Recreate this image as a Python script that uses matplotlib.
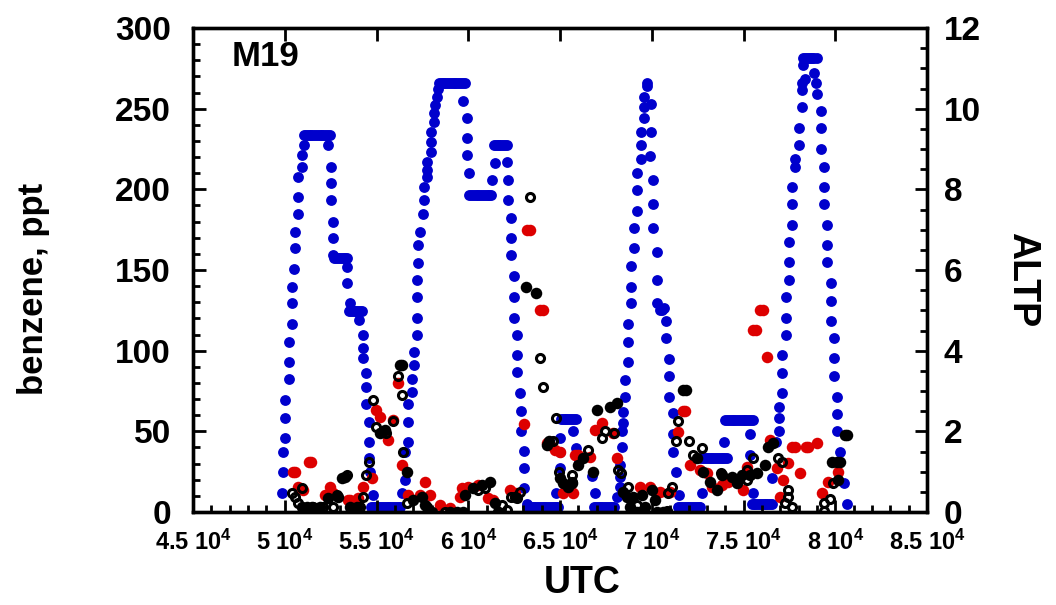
import numpy as np
import matplotlib
matplotlib.use('Agg')
import matplotlib.pyplot as plt
from matplotlib.ticker import MultipleLocator

plt.rcParams['font.family'] = 'Liberation Sans'
plt.rcParams['font.weight'] = 'bold'
plt.rcParams['axes.labelweight'] = 'bold'
plt.rcParams['mathtext.fontset'] = 'custom'
plt.rcParams['mathtext.rm'] = 'Liberation Sans:bold'
plt.rcParams['mathtext.default'] = 'rm'

# ALTP (right axis)
altp_pts = [
    (49832, 0.46), (49886, 1.00), (49886, 1.50), (50014, 1.83), (50014, 2.32), (50014, 2.78),
    (50232, 3.31), (50232, 3.73), (50232, 4.22), (50377, 4.66), (50377, 5.17), (50377, 5.59),
    (50522, 6.02), (50559, 6.54), (50559, 6.95), (50740, 7.38), (50740, 7.80), (50740, 8.31),
    (50922, 8.56), (50922, 8.85), (51067, 9.10),
    (51050, 9.35), (51150, 9.35), (51250, 9.35), (51350, 9.35), (51450, 9.35), (51550, 9.35),
    (51650, 9.35), (51750, 9.35), (51850, 9.35), (51950, 9.35), (52050, 9.35), (52150, 9.35),
    (52250, 9.35), (52350, 9.35), (52450, 9.35),
    (52339, 9.10), (52503, 8.56), (52503, 8.15), (52503, 7.74), (52648, 7.20), (52648, 6.79),
    (52648, 6.37),
    (52700, 6.29), (52800, 6.29), (52900, 6.29), (53000, 6.29), (53100, 6.29), (53200, 6.29),
    (53300, 6.29), (53400, 6.29),
    (53375, 6.08), (53375, 5.69), (53557, 5.17),
    (53500, 4.99), (53600, 4.99), (53700, 4.99), (53800, 4.99), (53900, 4.99), (54000, 4.99),
    (54100, 4.99), (54200, 4.99),
    (54066, 4.76), (54284, 4.39), (54284, 4.06), (54284, 3.81), (54429, 3.44), (54429, 3.11),
    (54429, 2.69), (54611, 2.24), (54611, 1.74), (54611, 1.33), (54647, 1.00), (54793, 0.42),
    (54700, 0.13), (54800, 0.13), (54900, 0.13), (55000, 0.13), (55100, 0.13), (55200, 0.13),
    (55300, 0.13), (55400, 0.13), (55500, 0.13), (55600, 0.13), (55700, 0.13), (55800, 0.13),
    (55900, 0.13), (56000, 0.13), (56100, 0.13), (56200, 0.13), (56300, 0.13),
    (56373, 0.46), (56555, 0.79), (56555, 1.50), (56737, 1.74), (56737, 2.24), (56737, 2.69),
    (56918, 2.98), (56918, 3.31), (57046, 3.64), (57046, 3.97), (57191, 4.39), (57191, 4.80),
    (57191, 5.34), (57191, 5.75), (57282, 6.17), (57282, 6.62), (57373, 6.95), (57554, 7.38),
    (57590, 7.74), (57590, 8.07), (57772, 8.31), (57772, 8.48), (57772, 8.69), (57953, 8.93),
    (57953, 9.18), (57953, 9.43), (58135, 9.68), (58135, 9.89), (58190, 10.09), (58281, 10.30),
    (58371, 10.50),
    (58400, 10.63), (58500, 10.63), (58600, 10.63), (58700, 10.63), (58800, 10.63), (58900, 10.63),
    (59000, 10.63), (59100, 10.63), (59200, 10.63), (59300, 10.63), (59400, 10.63), (59500, 10.63),
    (59600, 10.63), (59700, 10.63), (59800, 10.63),
    (59698, 10.20), (59916, 9.76), (59916, 9.27), (59916, 8.85), (60061, 8.41),
    (60050, 7.86), (60150, 7.86), (60250, 7.86), (60350, 7.86), (60450, 7.86), (60550, 7.86),
    (60650, 7.86), (60750, 7.86), (60850, 7.86), (60950, 7.86), (61050, 7.86), (61150, 7.86),
    (61250, 7.86),
    (61279, 8.23), (61460, 8.66),
    (61400, 9.10), (61500, 9.10), (61600, 9.10), (61700, 9.10), (61800, 9.10), (61900, 9.10),
    (62000, 9.10), (62100, 9.10),
    (62133, 8.67), (62187, 8.23), (62187, 7.74), (62314, 7.30), (62314, 6.79), (62314, 6.36),
    (62514, 5.86), (62514, 5.34), (62514, 4.82), (62678, 4.39), (62678, 3.89), (62678, 3.46),
    (62823, 2.94), (62860, 2.51), (62860, 2.01), (63059, 1.51), (63059, 1.08), (63059, 0.59),
    (63186, 0.21),
    (63200, 0.12), (63300, 0.12), (63400, 0.12), (63500, 0.12), (63600, 0.12), (63700, 0.12),
    (63800, 0.12), (63900, 0.12), (64000, 0.12), (64100, 0.12), (64200, 0.12), (64300, 0.12),
    (64400, 0.12), (64500, 0.12), (64600, 0.12), (64700, 0.12), (64800, 0.12), (64900, 0.12),
    (64784, 0.46), (65002, 1.08), (65002, 1.50), (65002, 1.83),
    (65050, 2.30), (65150, 2.30), (65250, 2.30), (65350, 2.30), (65450, 2.30), (65550, 2.30),
    (65650, 2.30), (65750, 2.30), (65850, 2.30),
    (65692, 2.00), (65874, 1.58), (66056, 1.29), (66729, 0.90), (66910, 0.46),
    (66850, 0.13), (66950, 0.13), (67050, 0.13), (67150, 0.13), (67250, 0.13), (67350, 0.13),
    (67450, 0.13), (67550, 0.13), (67650, 0.13), (67750, 0.13), (67850, 0.13), (67950, 0.13),
    (68127, 0.38), (68273, 0.63), (68273, 0.88), (68273, 1.17), (68364, 1.62), (68364, 2.00),
    (68454, 2.20), (68454, 2.49), (68545, 2.86), (68545, 3.27), (68690, 3.71), (68690, 4.22),
    (68690, 4.65), (68854, 5.17), (68854, 5.59), (68854, 6.11), (69036, 6.54), (69036, 7.03),
    (69217, 7.47), (69217, 7.98), (69217, 8.41), (69399, 8.75), (69399, 9.10), (69399, 9.43),
    (69581, 9.78), (69581, 10.03), (69581, 10.30), (69762, 10.55), (69762, 10.63),
    (69944, 10.12), (69944, 9.43), (69908, 8.83), (70090, 8.23), (70090, 7.64), (70090, 7.03),
    (70271, 6.44), (70271, 5.75), (70271, 5.17), (70453, 5.01), (70560, 5.00), (70671, 5.05),
    (70780, 4.74), (70780, 4.31), (70962, 3.79), (70962, 3.37), (70962, 2.86), (71143, 2.45),
    (71143, 1.93), (71143, 1.50), (71325, 0.98), (71507, 0.42),
    (71450, 0.13), (71550, 0.13), (71650, 0.13), (71750, 0.13), (71850, 0.13), (71950, 0.13),
    (72050, 0.13), (72150, 0.13), (72250, 0.13), (72350, 0.13), (72450, 0.13), (72550, 0.13),
    (72650, 0.13),
    (72724, 0.46),
    (72700, 1.33), (72800, 1.33), (72900, 1.33), (73000, 1.33), (73100, 1.33), (73200, 1.33),
    (73300, 1.33), (73400, 1.33), (73500, 1.33), (73600, 1.33), (73700, 1.33), (73800, 1.33),
    (73900, 1.33), (74000, 1.33), (74100, 1.33),
    (73940, 1.74),
    (74000, 2.27), (74100, 2.27), (74200, 2.27), (74300, 2.27), (74400, 2.27), (74500, 2.27),
    (74600, 2.27), (74700, 2.27), (74800, 2.27), (74900, 2.27), (75000, 2.27), (75100, 2.27),
    (75200, 2.27), (75300, 2.27), (75400, 2.27), (75500, 2.27),
    (75358, 1.93), (75358, 1.41), (75539, 0.46),
    (75450, 0.21), (75550, 0.21), (75650, 0.21), (75750, 0.21), (75850, 0.21), (75950, 0.21),
    (76050, 0.21), (76150, 0.21), (76250, 0.21), (76350, 0.21), (76450, 0.21), (76550, 0.21),
    (76575, 0.84), (76775, 1.74), (76938, 2.00), (76938, 2.34), (76938, 2.61), (77120, 2.94),
    (77120, 3.45), (77120, 3.89), (77302, 4.39), (77302, 4.82), (77302, 5.34), (77465, 5.75),
    (77465, 6.19), (77465, 6.70), (77647, 7.12), (77647, 7.64), (77647, 8.07), (77810, 8.56),
    (77810, 8.75), (78010, 9.10), (78010, 9.51), (78174, 10.03), (78174, 10.46), (78174, 10.63),
    (78356, 10.74), (78265, 11.08),
    (78250, 11.25), (78350, 11.25), (78450, 11.25), (78550, 11.25), (78650, 11.25), (78750, 11.25),
    (78850, 11.25), (79000, 11.25),
    (78864, 10.89), (78955, 10.63), (79028, 10.36), (79210, 9.94), (79210, 9.51), (79210, 9.00),
    (79391, 8.56), (79391, 8.07), (79391, 7.64), (79573, 7.12), (79573, 6.62), (79573, 6.19),
    (79755, 5.67), (79755, 5.24), (79755, 4.74), (79936, 4.31), (79936, 3.81), (79936, 3.37),
    (80082, 2.86), (80082, 2.42), (80082, 2.01), (80264, 1.50), (80482, 0.71), (80627, 0.21),
]

# benzene, ppt (left axis) - red filled
red_pts = [
    (50468, 25.0), (50560, 25.0), (50740, 15.7), (51013, 13.7), (51340, 31.2), (51430, 31.2),
    (52194, 10.6), (52467, 15.7), (52648, 12.0), (53466, 7.5), (53560, 7.5), (54011, 8.5),
    (54284, 15.7), (54738, 20.9), (54974, 63.3), (55192, 59.1), (55647, 44.7), (55883, 57.1),
    (56192, 79.8), (56373, 29.2), (56738, 10.5), (57374, 10.5), (57645, 18.9), (57917, 10.6),
    (58462, 4.4), (59007, 2.3), (59552, 9.6), (59643, 14.7), (60007, 15.7), (60552, 16.8),
    (61097, 8.5), (61369, 7.5), (62278, 13.7), (62551, 11.6), (63041, 54.4), (63200, 175.0),
    (63380, 175.0), (63900, 125.5), (64050, 125.5), (64276, 42.6), (64459, 41.6), (64730, 38.4),
    (65003, 37.4), (65184, 11.6), (65400, 15.8), (65729, 11.6), (65820, 35.4), (66002, 35.3),
    (66637, 34.3), (66910, 50.9), (67273, 55.0), (67909, 48.8), (68127, 33.3), (69363, 15.7),
    (69908, 15.7), (70453, 12.6), (70998, 12.6), (71452, 49.8), (71680, 62.6), (71800, 62.6),
    (72089, 29.2), (72634, 26.1), (73000, 24.0), (73270, 15.8), (73815, 16.7), (74178, 18.8),
    (74996, 13.6), (75176, 28.1), (75540, 112.9), (75700, 112.9), (75920, 125.2), (76080, 125.2),
    (76266, 96.3), (76448, 44.7), (76811, 27.1), (76995, 9.5), (77174, 19.9), (77447, 30.2),
    (77640, 40.5), (77800, 40.5), (78083, 24.0), (78400, 40.5), (78500, 40.5), (78992, 42.6),
    (79264, 11.6), (79627, 18.8), (80172, 25.1),
]

# benzene, ppt - black filled
black_pts = [
    (50922, 3.3), (51200, 3.3), (51500, 3.3), (51922, 3.3), (52376, 8.5), (52921, 9.6),
    (53103, 20.9), (53284, 22.0), (53557, 3.3), (53920, 3.3), (55192, 48.8), (55465, 50.9),
    (56283, 91.2), (56400, 91.2), (56646, 25.0), (57010, 7.4), (57463, 9.6), (57645, 4.4),
    (58008, 0.3), (59007, 0.3), (59370, 0.3), (59734, 0.3), (59825, 10.6), (60279, 14.7),
    (60734, 16.8), (61188, 18.8), (61460, 5.4), (61642, 0.3), (62551, 9.6), (63150, 139.7),
    (63695, 135.6), (64277, 41.6), (64400, 44.0), (65002, 20.9), (65184, 17.8), (65456, 15.7),
    (65638, 17.8), (66001, 29.2), (66274, 33.3), (66819, 25.0), (67001, 63.3), (67727, 65.3),
    (68091, 67.8), (68454, 12.7), (68673, 9.5), (68818, 3.3), (68963, 9.5), (69181, 0.3),
    (69454, 10.6), (69545, 0.3), (69636, 3.3), (69999, 13.6), (70180, 7.4), (70271, 0.3),
    (70636, 0.3), (70817, 0.3), (71725, 75.6), (71840, 75.6), (72452, 33.3), (72815, 25.0),
    (73179, 18.8), (73542, 13.6), (73815, 22.9), (74360, 21.9), (74633, 17.8), (74905, 22.9),
    (75359, 22.9), (75723, 23.9), (76177, 29.1), (76357, 40.5), (76631, 42.6), (79809, 31.3),
    (80083, 31.3), (80172, 19.9), (80260, 31.3), (80536, 47.8), (80627, 47.8),
]

# benzene, ppt - black open circles
open_pts = [
    (50377, 11.6), (50559, 9.5), (50740, 5.4), (50922, 14.7), (51558, 3.3), (52103, 3.3),
    (52648, 3.3), (52830, 10.6), (53375, 23.0), (54102, 3.3), (54247, 9.5), (54429, 22.9),
    (54611, 31.2), (54793, 69.5), (54974, 52.9), (55520, 48.8), (55883, 56.6), (56192, 84.5),
    (56373, 72.6), (56464, 37.4), (56647, 5.8), (57735, 3.3), (58735, 0.3), (60552, 13.7),
    (60915, 14.7), (61824, 4.4), (62133, 1.3), (62314, 9.6), (62642, 8.5), (62823, 12.7),
    (63368, 195.0), (63913, 95.3), (64095, 77.7), (64604, 44.1), (64785, 58.5), (64966, 25.1),
    (65639, 23.0), (65674, 18.8), (66546, 38.5), (67273, 45.7), (67455, 50.2), (67945, 48.8),
    (68182, 26.1), (68309, 24.0), (68727, 15.7), (69181, 4.4), (70817, 0.5), (70907, 11.6),
    (71089, 15.7), (71325, 44.0), (71452, 56.5), (72000, 44.0), (72234, 35.4), (72724, 39.5),
    (73779, 24.4), (75178, 19.9), (75176, 26.1), (75541, 33.2), (76902, 33.3), (77084, 31.2),
    (77265, 5.4), (77447, 13.7), (77629, 3.4), (77449, 9.5), (79357, 0.8), (79391, 5.4),
    (79720, 7.8), (79864, 18.2),
]

xtick_vals = [45000, 50000, 55000, 60000, 65000, 70000, 75000, 80000, 85000]
xtick_labels = ['4.5 10$^{4}$', '5 10$^{4}$', '5.5 10$^{4}$', '6 10$^{4}$', '6.5 10$^{4}$',
                '7 10$^{4}$', '7.5 10$^{4}$', '8 10$^{4}$', '8.5 10$^{4}$']

blue = '#0000cc'
red = '#dd0000'

fig = plt.figure(figsize=(10.56, 6.05), dpi=100)
ax = fig.add_axes([0.1828, 0.1537, 0.6951, 0.8])
ax2 = ax.twinx()
ax.set_zorder(ax2.get_zorder() + 1)
ax.patch.set_visible(False)

a_t, a_v = zip(*altp_pts)
ax2.plot(a_t, a_v, 'o', color=blue, ms=7.8, mew=0)

r_t, r_v = zip(*red_pts)
ax.plot(r_t, r_v, 'o', color=red, ms=8.3, mew=0)
b_t, b_v = zip(*black_pts)
ax.plot(b_t, b_v, 'o', color='black', ms=8.3, mew=0)
o_t, o_v = zip(*open_pts)
ax.plot(o_t, o_v, 'o', mfc='none', mec='black', ms=5.8, mew=2.2)

ax.set_xlim(45000, 85000)
ax.set_ylim(0, 300)
ax2.set_ylim(0, 12)

ax.set_xticks(xtick_vals)
ax.set_xticklabels(xtick_labels, fontsize=17)
ax.xaxis.set_minor_locator(MultipleLocator(1000))
ax.yaxis.set_major_locator(MultipleLocator(50))
ax.yaxis.set_minor_locator(MultipleLocator(10))
ax2.yaxis.set_major_locator(MultipleLocator(2))
ax2.yaxis.set_minor_locator(MultipleLocator(0.5))

ax.tick_params(axis='both', which='both', direction='in', width=2)
ax.tick_params(axis='both', which='major', length=9)
ax.tick_params(axis='both', which='minor', length=5)
ax.tick_params(axis='x', top=True, pad=13)
ax.tick_params(axis='y', right=False, labelsize=24, pad=16)
ax2.tick_params(axis='y', which='both', direction='in', width=2, labelsize=24, pad=12)
ax2.tick_params(axis='y', which='major', length=9)
ax2.tick_params(axis='y', which='minor', length=5)

for a in (ax, ax2):
    for s in a.spines.values():
        s.set_linewidth(2.4)

ax.set_xlabel('UTC', fontsize=27)
ax.xaxis.set_label_coords(0.53, -0.11)
ax.set_ylabel('benzene, ppt', fontsize=25)
ax.yaxis.set_label_coords(-0.195, 0.46)
ax2.set_ylabel('ALTP', fontsize=27, rotation=270, va='bottom')
ax2.yaxis.set_label_coords(1.105, 0.48)

ax.text(0.053, 0.975, 'M19', transform=ax.transAxes, fontsize=25,
        ha='left', va='top')

fig.savefig('out.png', dpi=100)
